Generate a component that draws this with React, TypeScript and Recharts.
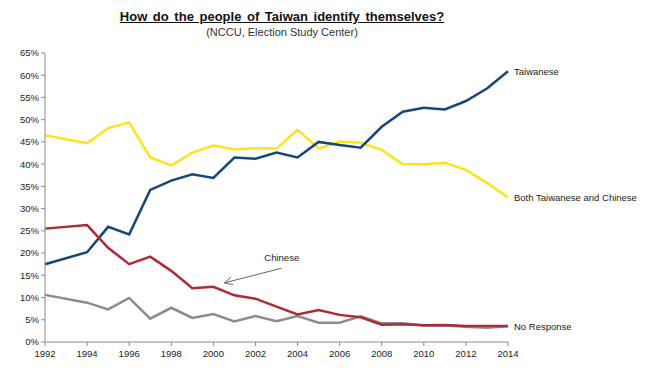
import React from 'react';
import { LineChart, Line, XAxis, YAxis, ReferenceLine } from 'recharts';

const years = [1992, 1994, 1995, 1996, 1997, 1998, 1999, 2000, 2001, 2002, 2003, 2004, 2005, 2006, 2007, 2008, 2009, 2010, 2011, 2012, 2013, 2014];
const taiwanese = [17.5, 20.2, 25.9, 24.2, 34.2, 36.3, 37.7, 36.9, 41.5, 41.2, 42.6, 41.5, 45.0, 44.3, 43.7, 48.4, 51.8, 52.7, 52.3, 54.2, 57.0, 60.9];
const both = [46.5, 44.7, 48.1, 49.4, 41.5, 39.7, 42.6, 44.2, 43.3, 43.6, 43.5, 47.7, 43.5, 45.1, 44.8, 43.2, 40.0, 40.0, 40.3, 38.7, 35.8, 32.5];
const chinese = [25.5, 26.3, 21.2, 17.5, 19.2, 16.0, 12.1, 12.4, 10.5, 9.75, 7.95, 6.2, 7.2, 6.1, 5.55, 3.9, 4.0, 3.75, 3.8, 3.6, 3.6, 3.6];
const noResponse = [10.6, 8.85, 7.35, 9.9, 5.25, 7.7, 5.4, 6.3, 4.6, 5.85, 4.65, 5.85, 4.35, 4.35, 5.8, 4.2, 4.2, 3.7, 3.7, 3.45, 3.2, 3.55];

const xTicks = [1992, 1994, 1996, 1998, 2000, 2002, 2004, 2006, 2008, 2010, 2012, 2014];
const yTicks = [0, 5, 10, 15, 20, 25, 30, 35, 40, 45, 50, 55, 60, 65];

const seriesLabels = {
  taiwanese: 'Taiwanese',
  both: 'Both Taiwanese and Chinese',
  noResponse: 'No Response',
};
const annotationText = 'Chinese';
const annotationFrom = { x: 2003.25, y: 16.6 };
const annotationTo = { x: 2000.52, y: 13.3 };

const title = 'How do the people of Taiwan identify themselves?';
const subtitle = '(NCCU, Election Study Center)';

const data = years.map((year, i) => ({
  year,
  taiwanese: taiwanese[i],
  both: both[i],
  chinese: chinese[i],
  noResponse: noResponse[i],
}));

const FONT = '"Liberation Sans", Arial, sans-serif';
const AXIS = '#8a8a8a';

const endLabel = (text: string) => (props: any) => {
  const { x, y, index } = props;
  if (index !== data.length - 1) return null;
  return (
    <text x={x + 6} y={y} dy={3.5} fontSize={9.5} fill="#222" fontFamily={FONT}>
      {text}
    </text>
  );
};

const ArrowShape = (props: any) => {
  const { x1, y1, x2, y2 } = props;
  if ([x1, y1, x2, y2].some((v) => v === undefined || isNaN(v))) return null;
  const ang = Math.atan2(y1 - y2, x1 - x2);
  const len = 9;
  const spread = 0.45;
  const ax = x2 + len * Math.cos(ang + spread);
  const ay = y2 + len * Math.sin(ang + spread);
  const bx = x2 + len * Math.cos(ang - spread);
  const by = y2 + len * Math.sin(ang - spread);
  return (
    <g>
      <line x1={x1} y1={y1} x2={x2} y2={y2} stroke="#666" strokeWidth={1} />
      <polyline points={`${ax},${ay} ${x2},${y2} ${bx},${by}`} fill="none" stroke="#666" strokeWidth={1} />
      <text x={x1} y={y1 - 7} textAnchor="middle" fontSize={9.5} fill="#222" fontFamily={FONT}>
        {annotationText}
      </text>
    </g>
  );
};

export default function App() {
  return (
    <div style={{ position: 'absolute', left: 0, top: 0, width: 647, height: 378, background: '#fff', fontFamily: FONT }}>
      <div
        style={{
          position: 'absolute',
          left: 0,
          width: 564,
          top: 9,
          textAlign: 'center',
          fontWeight: 'bold',
          fontSize: 13,
          textDecoration: 'underline',
          color: '#111',
          wordSpacing: 2,
        }}
      >
        {title}
      </div>
      <div
        style={{
          position: 'absolute',
          left: 0,
          width: 564,
          top: 26,
          textAlign: 'center',
          fontSize: 11,
          color: '#333',
        }}
      >
        {subtitle}
      </div>
      <div style={{ position: 'absolute', left: 0, top: 0 }}>
        <LineChart
          width={647}
          height={378}
          data={data}
          margin={{ top: 53, right: 139, bottom: 16, left: 5 }}
          style={{ fontFamily: FONT }}
        >
          <XAxis
            dataKey="year"
            type="number"
            domain={[1992, 2014]}
            ticks={xTicks}
            interval={0}
            height={20}
            stroke={AXIS}
            tickSize={4}
            tickMargin={4}
            tick={{ fontSize: 9.5, fill: '#222' }}
            tickLine={{ stroke: AXIS }}
          />
          <YAxis
            type="number"
            domain={[0, 65]}
            ticks={yTicks}
            interval={0}
            width={40}
            stroke={AXIS}
            tickSize={4}
            tickFormatter={(v: number) => `${v}%`}
            tick={{ fontSize: 9.5, fill: '#222' }}
            tickLine={{ stroke: AXIS }}
          />
          <Line dataKey="both" stroke="#FFE31A" strokeWidth={2.5} dot={false} isAnimationActive={false} label={endLabel(seriesLabels.both)} />
          <Line dataKey="taiwanese" stroke="#17467A" strokeWidth={2.5} dot={false} isAnimationActive={false} label={endLabel(seriesLabels.taiwanese)} />
          <Line dataKey="noResponse" stroke="#8C8C8C" strokeWidth={2.5} dot={false} isAnimationActive={false} label={endLabel(seriesLabels.noResponse)} />
          <Line dataKey="chinese" stroke="#B02A36" strokeWidth={2.5} dot={false} isAnimationActive={false} />
          <ReferenceLine
            segment={[annotationFrom, annotationTo]}
            shape={ArrowShape}
            ifOverflow="visible"
          />
        </LineChart>
      </div>
    </div>
  );
}
